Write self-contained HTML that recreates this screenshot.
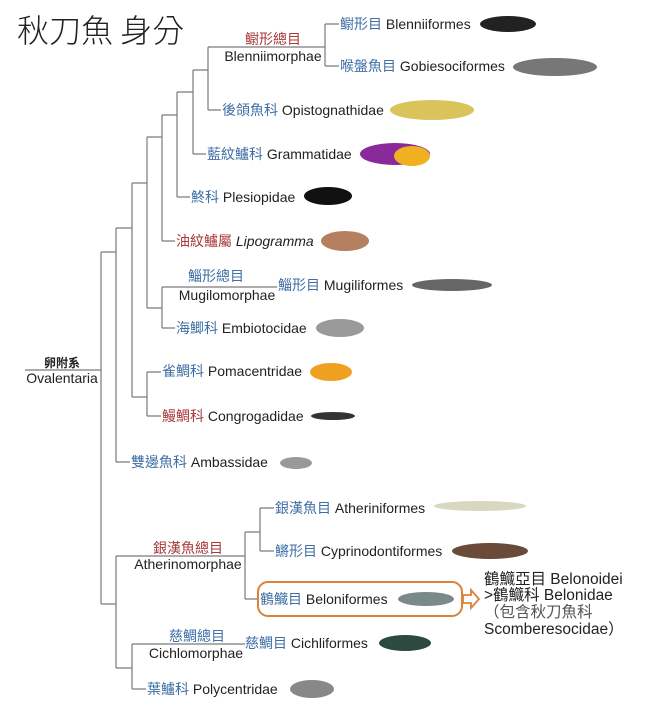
<!DOCTYPE html>
<html><head><meta charset="utf-8"><style>
html,body{margin:0;padding:0;background:#fff;width:655px;height:728px;overflow:hidden}
svg{display:block}
text{font-family:"Liberation Sans","Noto Sans CJK TC",sans-serif;font-size:14px;fill:#222}
.b{fill:#3f6fa6}.r{fill:#a83a3a}
</style></head><body>
<svg width="655" height="728" viewBox="0 0 655 728">
<text x="17" y="42" style="font-size:32px;fill:#222;font-family:'Noto Sans CJK TC',sans-serif;font-weight:300">秋刀魚 身分</text>
<g stroke="#7a7a7a" stroke-width="1.2" fill="none">
<path d="M25 370H101M101 252V604M101 252H116M101 604H116"/>
<path d="M116 228V462M116 462H130M116 228H132M132 183V397M132 397H147M147 372V416M147 372H161M147 416H161"/>
<path d="M132 183H147M147 137V308M147 308H162M162 287V328M162 328H175M162 287H277"/>
<path d="M147 137H162M162 115V241M162 241H175M162 115H177M177 92V197M177 197H190M177 92H193M193 70V154M193 154H206M193 70H208M208 47V110M208 110H221M208 47H325M325 24V66M325 24H339M325 66H339"/>
<path d="M116 556V668M116 556H245M245 532V599M245 599H258M245 532H260M260 508V551M260 508H274M260 551H274"/>
<path d="M116 668H132M132 644V689M132 689H146M132 644H245"/>
</g>
<text x="340" y="29"><tspan class="b">鳚形目</tspan> Blenniiformes</text>
<text x="340" y="71"><tspan class="b">喉盤魚目</tspan> Gobiesociformes</text>
<text x="222" y="115"><tspan class="b">後頜魚科</tspan> Opistognathidae</text>
<text x="207" y="159"><tspan class="b">藍紋鱸科</tspan> Grammatidae</text>
<text x="191" y="202"><tspan class="b">鮗科</tspan> Plesiopidae</text>
<text x="176" y="246"><tspan class="r">油紋鱸屬</tspan> <tspan font-style="italic">Lipogramma</tspan></text>
<text x="278" y="290"><tspan class="b">鯔形目</tspan> Mugiliformes</text>
<text x="176" y="333"><tspan class="b">海鯽科</tspan> Embiotocidae</text>
<text x="162" y="376"><tspan class="b">雀鯛科</tspan> Pomacentridae</text>
<text x="162" y="421"><tspan class="r">鰻鯛科</tspan> Congrogadidae</text>
<text x="131" y="467"><tspan class="b">雙邊魚科</tspan> Ambassidae</text>
<text x="275" y="513"><tspan class="b">銀漢魚目</tspan> Atheriniformes</text>
<text x="275" y="556"><tspan class="b">鱂形目</tspan> Cyprinodontiformes</text>
<text x="260" y="604"><tspan class="b">鶴鱵目</tspan> Beloniformes</text>
<text x="245" y="648"><tspan class="b">慈鯛目</tspan> Cichliformes</text>
<text x="147" y="694"><tspan class="b">葉鱸科</tspan> Polycentridae</text>
<text x="273" y="44" text-anchor="middle" class="r">鳚形總目</text>
<text x="273" y="61" text-anchor="middle">Blenniimorphae</text>
<text x="216" y="281" text-anchor="middle" class="b">鯔形總目</text>
<text x="227" y="300" text-anchor="middle">Mugilomorphae</text>
<text x="188" y="553" text-anchor="middle" class="r">銀漢魚總目</text>
<text x="188" y="569" text-anchor="middle">Atherinomorphae</text>
<text x="197" y="641" text-anchor="middle" class="b">慈鯛總目</text>
<text x="196" y="658" text-anchor="middle">Cichlomorphae</text>
<text x="62" y="367" text-anchor="middle" style="font-weight:bold;font-size:12px">卵附系</text>
<text x="62" y="383" text-anchor="middle">Ovalentaria</text>
<rect x="258" y="582" width="204" height="34" rx="10" fill="none" stroke="#d9823b" stroke-width="2"/>
<path d="M463 595H471V590L479 599L471 608V603H463Z" fill="#fff" stroke="#d9823b" stroke-width="1.8"/>
<text x="484" y="584" style="font-size:15.5px">鶴鱵亞目 Belonoidei</text>
<text x="484" y="600" style="font-size:15.5px">&gt;鶴鱵科 Belonidae</text>
<text x="484" y="617" style="font-size:15.5px;fill:#555">（包含秋刀魚科</text>
<text x="484" y="634" style="font-size:15.5px">Scomberesocidae）</text>
<ellipse cx="508" cy="24" rx="28" ry="8" fill="#222"/>
<ellipse cx="555" cy="67" rx="42" ry="9" fill="#777"/>
<ellipse cx="432" cy="110" rx="42" ry="10" fill="#d9c35a"/>
<ellipse cx="395" cy="154" rx="35" ry="11" fill="#8a2a9a"/><ellipse cx="412" cy="156" rx="18" ry="10" fill="#f0b020"/>
<ellipse cx="328" cy="196" rx="24" ry="9" fill="#111"/>
<ellipse cx="345" cy="241" rx="24" ry="10" fill="#b48060"/>
<ellipse cx="452" cy="285" rx="40" ry="6" fill="#666"/>
<ellipse cx="340" cy="328" rx="24" ry="9" fill="#999"/>
<ellipse cx="331" cy="372" rx="21" ry="9" fill="#f0a020"/>
<ellipse cx="333" cy="416" rx="22" ry="4" fill="#333"/>
<ellipse cx="296" cy="463" rx="16" ry="6" fill="#999"/>
<ellipse cx="480" cy="506" rx="46" ry="5" fill="#d8d8c0"/>
<ellipse cx="490" cy="551" rx="38" ry="8" fill="#6a4a38"/>
<ellipse cx="426" cy="599" rx="28" ry="7" fill="#7a8a88"/>
<ellipse cx="405" cy="643" rx="26" ry="8" fill="#2d4a40"/>
<ellipse cx="312" cy="689" rx="22" ry="9" fill="#888"/>
</svg>
</body></html>
